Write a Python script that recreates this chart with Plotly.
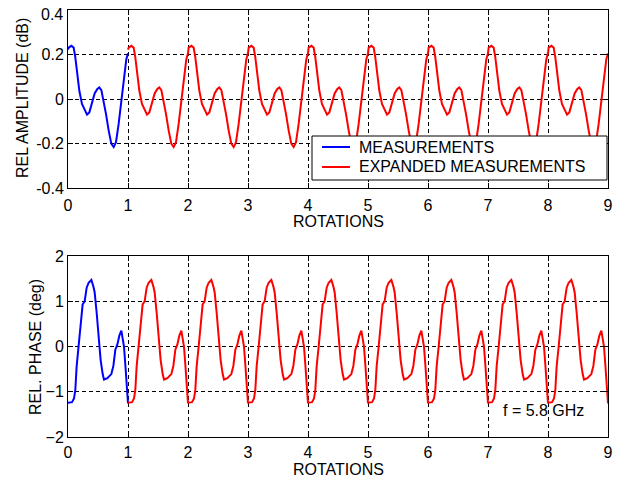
import numpy as np
import plotly.graph_objects as go

# ---- data (one measured rotation) ----
amp_rot = [0.0, 0.011, 0.056, 0.094, 0.122, 0.15, 0.189, 0.233, 0.278, 0.317, 0.356, 0.4,
           0.444, 0.489, 0.522, 0.556, 0.594, 0.633, 0.678, 0.722, 0.761, 0.8, 0.844,
           0.889, 0.933, 0.972, 1.0]
amp_db = [0.222, 0.231, 0.239, 0.231, 0.187, 0.127, 0.037, -0.022, -0.052, -0.070, -0.060,
          -0.015, 0.025, 0.045, 0.052, 0.040, -0.007, -0.067, -0.142, -0.201, -0.216,
          -0.194, -0.112, -0.007, 0.104, 0.179, 0.205]

ph_rot = [0.0, 0.067, 0.1, 0.122, 0.144, 0.178, 0.211, 0.244, 0.278, 0.311, 0.344, 0.389,
          0.422, 0.444, 0.478, 0.511, 0.544, 0.578, 0.6, 0.656, 0.722, 0.756, 0.789,
          0.822, 0.856, 0.889, 0.911, 0.933, 0.956, 0.978, 0.989, 1.0]
ph_deg = [-1.244, -1.23, -1.15, -0.96, -0.44, 0.0, 0.44, 0.93, 1.0, 1.30, 1.41, 1.47,
          1.33, 1.2, 0.74, 0.22, -0.30, -0.61, -0.73, -0.70, -0.61, -0.43, -0.07,
          0.04, 0.24, 0.35, 0.21, 0.0, -0.41, -0.89, -1.26, -1.26]

n_rotations = 9
x_ticks = list(range(0, 10))
amp_ticks = [-0.4, -0.2, 0, 0.2, 0.4]
amp_ticktext = ["-0.4", "-0.2", "0", "0.2", "0.4"]
ph_ticks = [-2, -1, 0, 1, 2]
legend_names = ["MEASUREMENTS", "EXPANDED MEASUREMENTS"]

# expanded measurements: the measured rotation repeated over rotations 1..9
amp_x_exp = np.concatenate([np.array(amp_rot) + k for k in range(1, n_rotations)])
amp_y_exp = np.concatenate([np.array(amp_db) for k in range(1, n_rotations)])
ph_x_exp = np.concatenate([np.array(ph_rot) + k for k in range(1, n_rotations)])
ph_y_exp = np.concatenate([np.array(ph_deg) for k in range(1, n_rotations)])

BLUE = "#0000ff"
RED = "#ff0000"
FONT = "Liberation Sans, Arial, sans-serif"
FS = 16

fig = go.Figure()
fig.add_trace(go.Scatter(x=amp_rot, y=amp_db, mode="lines", name=legend_names[0],
                         line=dict(color=BLUE, width=2), xaxis="x", yaxis="y"))
fig.add_trace(go.Scatter(x=amp_x_exp, y=amp_y_exp, mode="lines", name=legend_names[1],
                         line=dict(color=RED, width=2), xaxis="x", yaxis="y"))
fig.add_trace(go.Scatter(x=ph_rot, y=ph_deg, mode="lines", name=legend_names[0],
                         line=dict(color=BLUE, width=2), xaxis="x2", yaxis="y2"))
fig.add_trace(go.Scatter(x=ph_x_exp, y=ph_y_exp, mode="lines", name=legend_names[1],
                         line=dict(color=RED, width=2), xaxis="x2", yaxis="y2"))

# page geometry (the page has an 8px body margin)
H_PLOT = 427.0
W_PLOT = 540.0
def px(xp):
    return (xp - 68) / W_PLOT
def py(yp):
    return (437 - yp) / H_PLOT

top_bottom = py(188)
bot_top = py(256)

axis_common = dict(
    showline=True, linecolor="black", linewidth=1, mirror="ticks",
    ticks="inside", ticklen=5, tickcolor="black", tickwidth=1,
    showgrid=True, gridcolor="black", gridwidth=1, griddash="4px,3px",
    zeroline=False, automargin=False, ticklabeloverflow="allow",
    tickfont=dict(family=FONT, size=FS, color="black"),
)

# the topmost amplitude label sits at the very top edge; draw it slightly lower
# so it is not clipped
amp_ticktext_axis = amp_ticktext[:-1] + [""]

# hand-drawn legend box (matches the reference's compact layout)
shapes = [
    dict(type="rect", xref="paper", yref="paper", x0=px(312), x1=px(607), y0=py(180), y1=py(136),
         fillcolor="white", line=dict(color="black", width=1), layer="above"),
    dict(type="line", xref="paper", yref="paper", x0=px(322), x1=px(350), y0=py(147), y1=py(147),
         line=dict(color=BLUE, width=2), layer="above"),
    dict(type="line", xref="paper", yref="paper", x0=px(322), x1=px(350), y0=py(167), y1=py(167),
         line=dict(color=RED, width=2), layer="above"),
]

annotations = [
    dict(text=amp_ticktext[-1], x=px(63.5), y=py(14), xref="paper", yref="paper",
         showarrow=False, xanchor="right", yanchor="middle", font=dict(size=FS),
         borderpad=0, xshift=0),
    dict(text=legend_names[0], x=px(357), y=py(147), xref="paper", yref="paper",
         showarrow=False, xanchor="left", yanchor="middle", font=dict(size=FS)),
    dict(text=legend_names[1], x=px(357), y=py(167), xref="paper", yref="paper",
         showarrow=False, xanchor="left", yanchor="middle", font=dict(size=FS)),
    dict(text="REL AMPLITUDE (dB)", x=px(22), y=py(98),
         xref="paper", yref="paper", textangle=-90, showarrow=False,
         xanchor="center", yanchor="middle", font=dict(size=FS)),
    dict(text="REL. PHASE (deg)", x=px(35), y=py(347),
         xref="paper", yref="paper", textangle=-90, showarrow=False,
         xanchor="center", yanchor="middle", font=dict(size=FS)),
    dict(text="ROTATIONS", x=0.5, y=py(221), xref="paper", yref="paper",
         showarrow=False, xanchor="center", yanchor="middle", font=dict(size=FS)),
    dict(text="ROTATIONS", x=0.5, y=py(469.5), xref="paper", yref="paper",
         showarrow=False, xanchor="center", yanchor="middle", font=dict(size=FS)),
    dict(text="f = 5.8 GHz", x=7.93, y=-1.41, xref="x2", yref="y2",
         showarrow=False, xanchor="center", yanchor="middle", font=dict(size=FS)),
]

fig.update_layout(
    width=620, height=472,
    margin=dict(l=60, r=20, t=2, b=43, autoexpand=False),
    paper_bgcolor="white", plot_bgcolor="white",
    font=dict(family=FONT, size=FS, color="black"),
    xaxis=dict(domain=[0, 1], range=[0, 9], tickvals=x_ticks, anchor="y",
               ticklabelstandoff=3, **axis_common),
    yaxis=dict(domain=[top_bottom, 1], range=[-0.4, 0.4], tickvals=amp_ticks,
               ticktext=amp_ticktext_axis, anchor="x", **axis_common),
    xaxis2=dict(domain=[0, 1], range=[0, 9], tickvals=x_ticks, anchor="y2",
                ticklabelstandoff=1, **axis_common),
    yaxis2=dict(domain=[0, bot_top], range=[-2, 2], tickvals=ph_ticks, anchor="x2", **axis_common),
    showlegend=False,
    shapes=shapes,
    annotations=annotations,
)

fig.write_html("out.html")
